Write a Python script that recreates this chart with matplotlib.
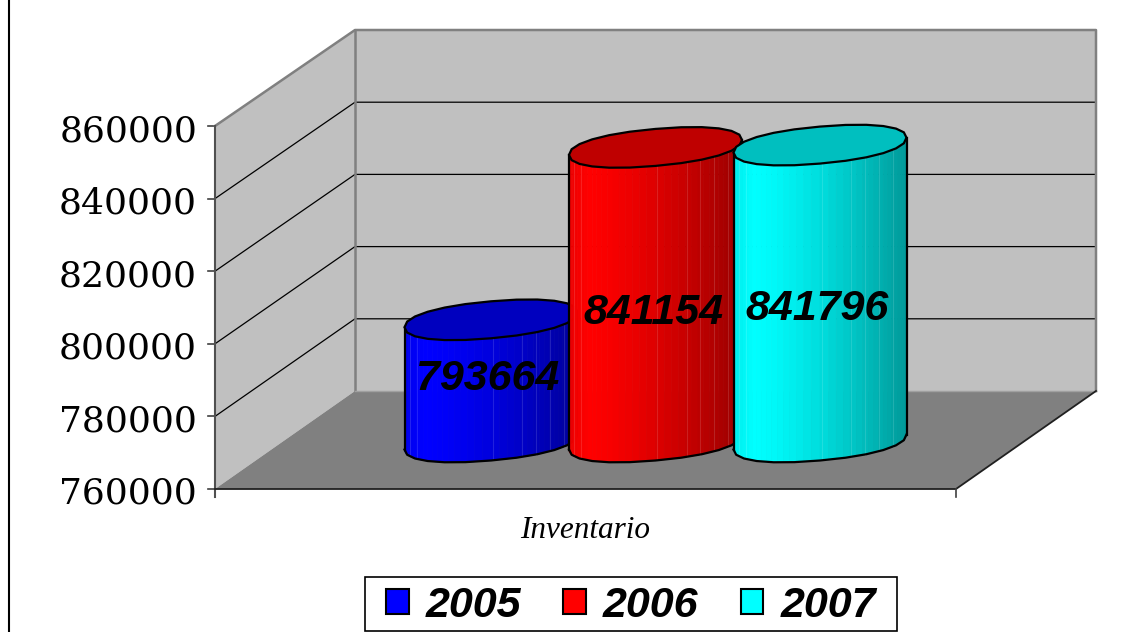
"""3D-style cylinder chart of yearly inventory (Inventario), 2005-2007."""

import numpy as np
import matplotlib
matplotlib.use("Agg")
import matplotlib.pyplot as plt
from matplotlib.patches import Patch, Polygon, Rectangle

# ── Data ──────────────────────────────────────────────────────────────────────
YEARS = ["2005", "2006", "2007"]
INVENTORY = [793664, 841154, 841796]
COLORS = [(0, 0, 1), (1, 0, 0), (0, 1, 1)]
TICK_VALUES = [760000, 780000, 800000, 820000, 840000, 860000]
X_LABEL = "Inventario"

# ── Layout (pixels) ───────────────────────────────────────────────────────────
W, H = 1128, 632
FRONT_L, FRONT_R = 215, 956
BACK_L, BACK_R = 355, 1096
FRONT_BASE, BACK_BASE = 489, 391
FRONT_SCALE, BACK_SCALE = 363 / 100000, 361 / 100000
BAR_BASE = 442
BAR_X0, BAR_STEP = 491, 164.5
BAR_A, BAR_B, BAR_TILT = 86.5, 18.5, 7.5
ROUNDNESS = 0.9
LABEL_OFFSETS = [(-3, -2), (-2, 18), (-3, 15)]
SEAM_FRACS = [0.03, 0.07, 0.51, 0.68, 0.76, 0.84, 0.92]

WALL = "#c0c0c0"
FLOOR = "#808080"
EDGE = "#808080"


def val_y(value, base, scale=FRONT_SCALE):
    return base - (value - TICK_VALUES[0]) * scale


def arc(cx, cy, t):
    # slightly squared, tilted ellipse like the faceted cylinder ends
    c, s = np.cos(t), np.sin(t)
    c = np.sign(c) * np.abs(c) ** ROUNDNESS
    s = np.sign(s) * np.abs(s) ** ROUNDNESS
    return np.column_stack([cx + BAR_A * c, cy - BAR_TILT * c + BAR_B * s])


def shade(frac):
    # brightest a little right of the left edge, then darker towards the right
    if frac < 0.12:
        return 0.93 + 0.07 * frac / 0.12
    return 1.0 - 0.4 * ((frac - 0.12) / 0.88) ** 1.3


def draw_cylinder(ax, cx, value, color, z):
    top_y = val_y(value, BAR_BASE)
    ts = np.linspace(np.pi, 0, 41)
    for t0, t1 in zip(ts[:-1], ts[1:]):
        pair = np.array([t0, t1])
        upper = arc(cx, top_y, pair)
        lower = arc(cx, BAR_BASE, pair)
        frac = (upper[:, 0].mean() - cx + BAR_A) / (2 * BAR_A)
        c = tuple(np.array(color) * shade(frac))
        ax.add_patch(Polygon(np.vstack([upper, lower[::-1]]), closed=True,
                             facecolor=c, edgecolor=c, linewidth=0.5, zorder=z))

    # faint facet seams
    fine = np.linspace(np.pi, 0, 200)
    for f in SEAM_FRACS:
        x = cx - BAR_A + f * 2 * BAR_A
        t = fine[np.argmin(np.abs(arc(cx, 0, fine)[:, 0] - x))]
        y0 = arc(cx, top_y, np.array([t]))[0, 1]
        y1 = arc(cx, BAR_BASE, np.array([t]))[0, 1]
        ax.plot([x, x], [y0, y1], color="white", alpha=0.13, lw=0.8, zorder=z)

    # outline of the body, from the coarse front arcs
    coarse = np.linspace(np.pi, 0, 13)
    ax.plot(*arc(cx, BAR_BASE, coarse).T, color="black", lw=1.6, zorder=z)
    for sign in (-1, 1):
        end_x = cx + sign * BAR_A
        ax.plot([end_x, end_x], [top_y - sign * BAR_TILT, BAR_BASE - sign * BAR_TILT],
                color="black", lw=1.6, zorder=z)

    # top face
    ring = np.linspace(0, 2 * np.pi, 25)
    ax.add_patch(Polygon(arc(cx, top_y, ring), closed=True,
                         facecolor=tuple(np.array(color) * 0.75),
                         edgecolor="black", linewidth=1.6, zorder=z))


# ── Figure ────────────────────────────────────────────────────────────────────
fig = plt.figure(figsize=(W / 100, H / 100), dpi=100)
ax = fig.add_axes([0, 0, 1, 1])
ax.set_xlim(0, W)
ax.set_ylim(H, 0)
ax.axis("off")

top_front = val_y(TICK_VALUES[-1], FRONT_BASE)
top_back = val_y(TICK_VALUES[-1], BACK_BASE, BACK_SCALE)

# walls and floor
ax.add_patch(Polygon([(BACK_L, top_back), (BACK_R, top_back),
                      (BACK_R, BACK_BASE), (BACK_L, BACK_BASE)],
                     facecolor=WALL, edgecolor="none", zorder=0))
ax.add_patch(Polygon([(FRONT_L, top_front), (BACK_L, top_back),
                      (BACK_L, BACK_BASE), (FRONT_L, FRONT_BASE)],
                     facecolor=WALL, edgecolor="none", zorder=0))
ax.add_patch(Polygon([(FRONT_L, FRONT_BASE), (BACK_L, BACK_BASE),
                      (BACK_R, BACK_BASE), (FRONT_R, FRONT_BASE)],
                     facecolor=FLOOR, edgecolor="none", zorder=0))

# gridlines and tick labels
for v in TICK_VALUES:
    fy, by = val_y(v, FRONT_BASE), val_y(v, BACK_BASE, BACK_SCALE)
    if TICK_VALUES[0] < v < TICK_VALUES[-1]:
        ax.plot([FRONT_L, BACK_L, BACK_R], [fy, by, by], color="black", lw=0.9, zorder=1)
    ax.plot([FRONT_L - 7, FRONT_L], [fy, fy], color="#404040", lw=1.2, zorder=1)
    ax.text(197, fy + 5, str(v), ha="right", va="center",
            family="DejaVu Serif", fontsize=26, color="black")

# wall edges
ax.plot([FRONT_L, BACK_L, BACK_R, BACK_R], [top_front, top_back, top_back, BACK_BASE],
        color=EDGE, lw=1.8, zorder=1)
ax.plot([BACK_L, BACK_L], [top_back, BACK_BASE], color=EDGE, lw=1.8, zorder=1)
ax.plot([BACK_L, BACK_R], [BACK_BASE, BACK_BASE], color="#a0a0a0", lw=1.0, zorder=1)
ax.plot([FRONT_L, FRONT_L], [top_front, FRONT_BASE + 8], color="#505050", lw=1.5, zorder=1)
ax.plot([FRONT_L, FRONT_R, BACK_R], [FRONT_BASE, FRONT_BASE, BACK_BASE],
        color="#202020", lw=1.3, zorder=1)
ax.plot([FRONT_R, FRONT_R], [FRONT_BASE, FRONT_BASE + 8], color="#404040", lw=1.2, zorder=1)

# cylinders
for i, (value, color) in enumerate(zip(INVENTORY, COLORS)):
    draw_cylinder(ax, BAR_X0 + BAR_STEP * i, value, color, z=3 + i)

# data labels
for i, value in enumerate(INVENTORY):
    dx, dy = LABEL_OFFSETS[i]
    mid_y = (val_y(value, BAR_BASE) + BAR_BASE) / 2
    ax.text(BAR_X0 + BAR_STEP * i + dx, mid_y + dy, str(value), ha="center", va="center",
            family="Liberation Sans", weight="bold", style="italic", fontsize=31,
            color="black", zorder=10)

ax.text(585, 530, X_LABEL, ha="center", va="center",
        family="Liberation Serif", style="italic", fontsize=22.5, color="black")

# chart frame remnant on the left
ax.plot([9, 9], [0, H], color="black", lw=1.5)

# legend, with its box drawn separately to get the wide, shallow frame
ax.add_patch(Rectangle((365, 577), 532, 54, facecolor="white", edgecolor="black",
                       linewidth=1.2, zorder=11))
handles = [Patch(facecolor=c, edgecolor="black", linewidth=1.5) for c in COLORS]
leg = ax.legend(handles, YEARS, ncol=3, loc="center", bbox_to_anchor=(631, 606),
                bbox_transform=ax.transData, frameon=False,
                handlelength=0.52, handleheight=0.52,
                handletextpad=0.4, columnspacing=0.98, borderpad=0, borderaxespad=0,
                prop={"family": "Liberation Sans", "weight": "bold",
                      "style": "italic", "size": 31})
leg.set_zorder(12)

fig.savefig("out.png", dpi=100)
